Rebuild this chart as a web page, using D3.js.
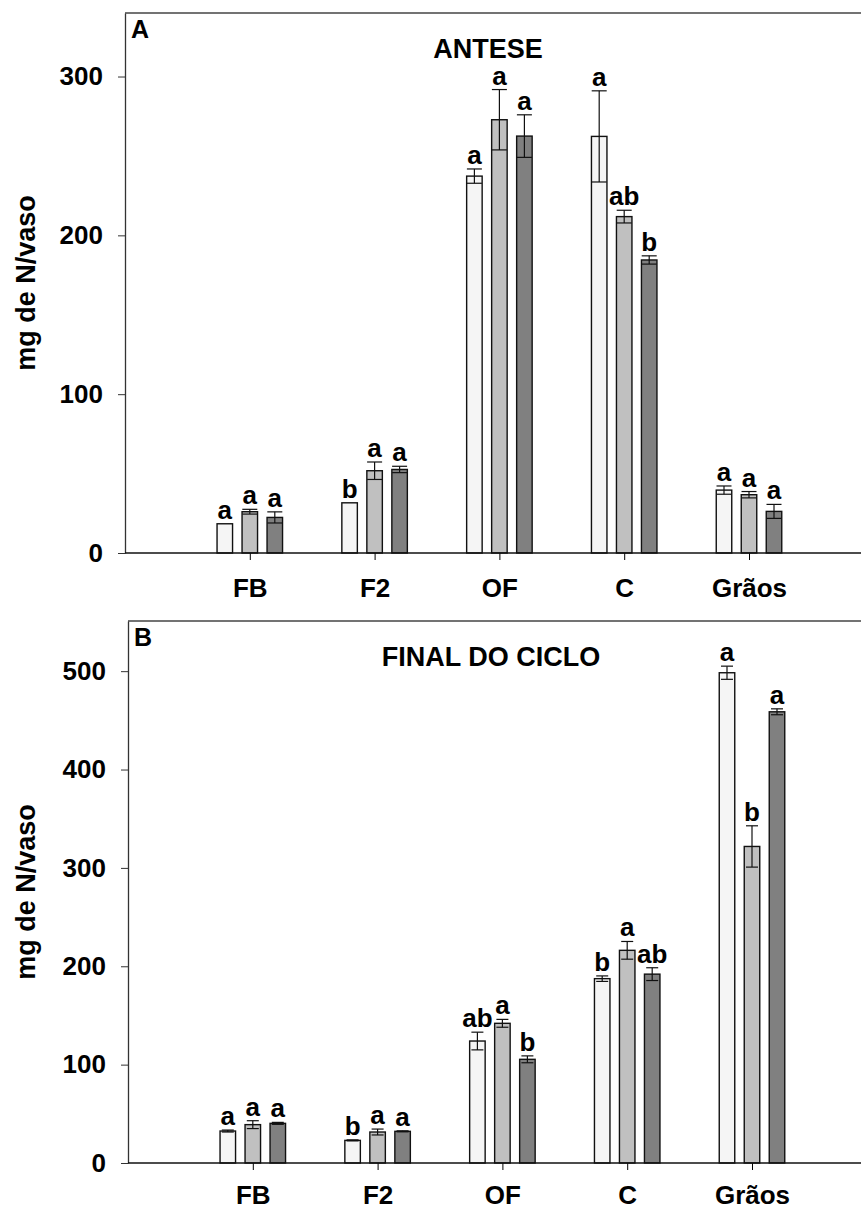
<!DOCTYPE html>
<html>
<head>
<meta charset="utf-8">
<script src="https://cdn.jsdelivr.net/npm/d3@7"></script>
<style>
  body { margin: 0; background: #fff; }
  svg text { font-family: "Liberation Sans", Arial, sans-serif; font-weight: bold; fill: #000; }
</style>
</head>
<body>
<div id="chart"></div>
<script>

// categories and treatments (white, light gray, dark gray)
const categories = ["FB", "F2", "OF", "C", "Grãos"];
const barColors = ["#f5f5f5", "#c0c0c0", "#808080"];

// A - ANTESE
const anteseMeans = [
    [18.4, 31.6, 237.3, 262.3, 39.6],
    [26.0, 51.8, 272.8, 211.8, 36.7],
    [22.4, 52.6, 262.5, 184.5, 26.2]
];
const anteseErrors = [
    [0, 0, 4.5, 28.7, 2.6],
    [1.5, 5.5, 19, 4, 2],
    [3.5, 2, 13.4, 2.6, 4.4]
];
const anteseLetters = [
    ["a", "b", "a", "a", "a"],
    ["a", "a", "a", "ab", "a"],
    ["a", "a", "a", "b", "a"]
];
const anteseTicks = [0, 100, 200, 300];

// B - FINAL DO CICLO
const finalMeans = [
    [32.5, 23.0, 124.0, 187.4, 498.4],
    [39.0, 31.5, 142.0, 216.2, 321.8],
    [40.3, 32.2, 105.4, 192.0, 458.7]
];
const finalErrors = [
    [1, 0.5, 9, 2.8, 6.7],
    [4, 3, 4, 9, 21],
    [1, 0.5, 3.5, 6.5, 3]
];
const finalLetters = [
    ["a", "b", "ab", "b", "a"],
    ["a", "a", "a", "a", "b"],
    ["a", "a", "b", "ab", "a"]
];
const finalTicks = [0, 100, 200, 300, 400, 500];

const width = 861, height = 1208;

const svg = d3.select("#chart").append("svg")
    .attr("width", width)
    .attr("height", height);

function drawPanel(opts) {

    let g = svg.append("g");

    let y = d3.scaleLinear()
        .domain([0, opts.yMax])
        .range([opts.bottom, opts.top]);

    // category positions 1..5 on a 0..6 axis
    let x = d3.scaleLinear()
        .domain([0, 6])
        .range([opts.left, opts.left + 6 * 124.8]);

    let offsets = [-25, 0, 25];
    let barW = 15.5;

    // top frame line
    g.append("line")
        .attr("x1", opts.left).attr("x2", width)
        .attr("y1", opts.top).attr("y2", opts.top)
        .attr("stroke", "#444").attr("stroke-width", 1.3);

    // y axis
    let yAxis = g.append("g")
        .attr("transform", "translate(" + opts.left + ",0)")
        .call(d3.axisLeft(y).tickValues(opts.ticks).tickSize(7).tickSizeOuter(0).tickPadding(15));
    yAxis.select(".domain").attr("stroke", "#333").attr("stroke-width", 1.3);
    yAxis.selectAll(".tick line").attr("stroke", "#333");
    yAxis.selectAll("text").style("font-size", "26px").attr("fill", "#000");

    // bars
    opts.means.forEach((series, s) => {
        g.selectAll(".bar" + s)
            .data(series)
            .enter().append("rect")
            .attr("x", (d, i) => x(i + 1) + offsets[s] - barW / 2)
            .attr("y", d => y(d))
            .attr("width", barW)
            .attr("height", d => y(0) - y(d))
            .attr("fill", barColors[s])
            .attr("stroke", "#111")
            .attr("stroke-width", 1.4);
    });

    // error bars
    opts.means.forEach((series, s) => {
        series.forEach((m, i) => {
            let e = opts.errors[s][i];
            if (e <= 0) return;
            let cx = x(i + 1) + offsets[s];
            let eg = g.append("g").attr("stroke", "#111").attr("stroke-width", 1.2);
            eg.append("line").attr("x1", cx).attr("x2", cx).attr("y1", y(m + e)).attr("y2", y(m - e));
            eg.append("line").attr("x1", cx - opts.cap / 2).attr("x2", cx + opts.cap / 2).attr("y1", y(m + e)).attr("y2", y(m + e));
            eg.append("line").attr("x1", cx - opts.cap / 2).attr("x2", cx + opts.cap / 2).attr("y1", y(m - e)).attr("y2", y(m - e));
        });
    });

    // significance letters
    opts.means.forEach((series, s) => {
        g.selectAll(".letter" + s)
            .data(series)
            .enter().append("text")
            .attr("x", (d, i) => x(i + 1) + offsets[s])
            .attr("y", (d, i) => y(d + opts.errors[s][i]) - 5)
            .attr("text-anchor", "middle")
            .style("font-size", "26px")
            .text((d, i) => opts.letters[s][i]);
    });

    // x axis
    let xAxis = g.append("g")
        .attr("transform", "translate(0," + opts.bottom + ")")
        .call(d3.axisBottom(x).tickValues([1, 2, 3, 4, 5])
            .tickFormat(d => categories[d - 1])
            .tickSize(7).tickSizeOuter(0).tickPadding(opts.labelPad));
    xAxis.select(".domain").remove();
    xAxis.selectAll("text").style("font-size", "26px").attr("fill", "#000");
    g.append("line")
        .attr("x1", opts.left).attr("x2", width)
        .attr("y1", opts.bottom).attr("y2", opts.bottom)
        .attr("stroke", "#111").attr("stroke-width", 1.4);

    // panel letter and title
    g.append("text")
        .attr("x", opts.left + 6).attr("y", opts.top + 25)
        .style("font-size", "25px")
        .text(opts.panel);

    g.append("text")
        .attr("x", opts.left + 363).attr("y", opts.top + 45)
        .attr("text-anchor", "middle")
        .style("font-size", "27px")
        .text(opts.title);

    // y label
    g.append("text")
        .attr("transform", "translate(35," + ((opts.top + opts.bottom) / 2) + ") rotate(-90)")
        .attr("text-anchor", "middle")
        .style("font-size", "27px")
        .text("mg de N/vaso");
}

drawPanel({
    panel: "A", title: "ANTESE",
    left: 125, top: 13, bottom: 553, yMax: 340,
    ticks: anteseTicks, means: anteseMeans, errors: anteseErrors, letters: anteseLetters,
    cap: 15, labelPad: 19
});

drawPanel({
    panel: "B", title: "FINAL DO CICLO",
    left: 128, top: 621, bottom: 1163, yMax: 551,
    ticks: finalTicks, means: finalMeans, errors: finalErrors, letters: finalLetters,
    cap: 12, labelPad: 16
});

</script>
</body>
</html>
